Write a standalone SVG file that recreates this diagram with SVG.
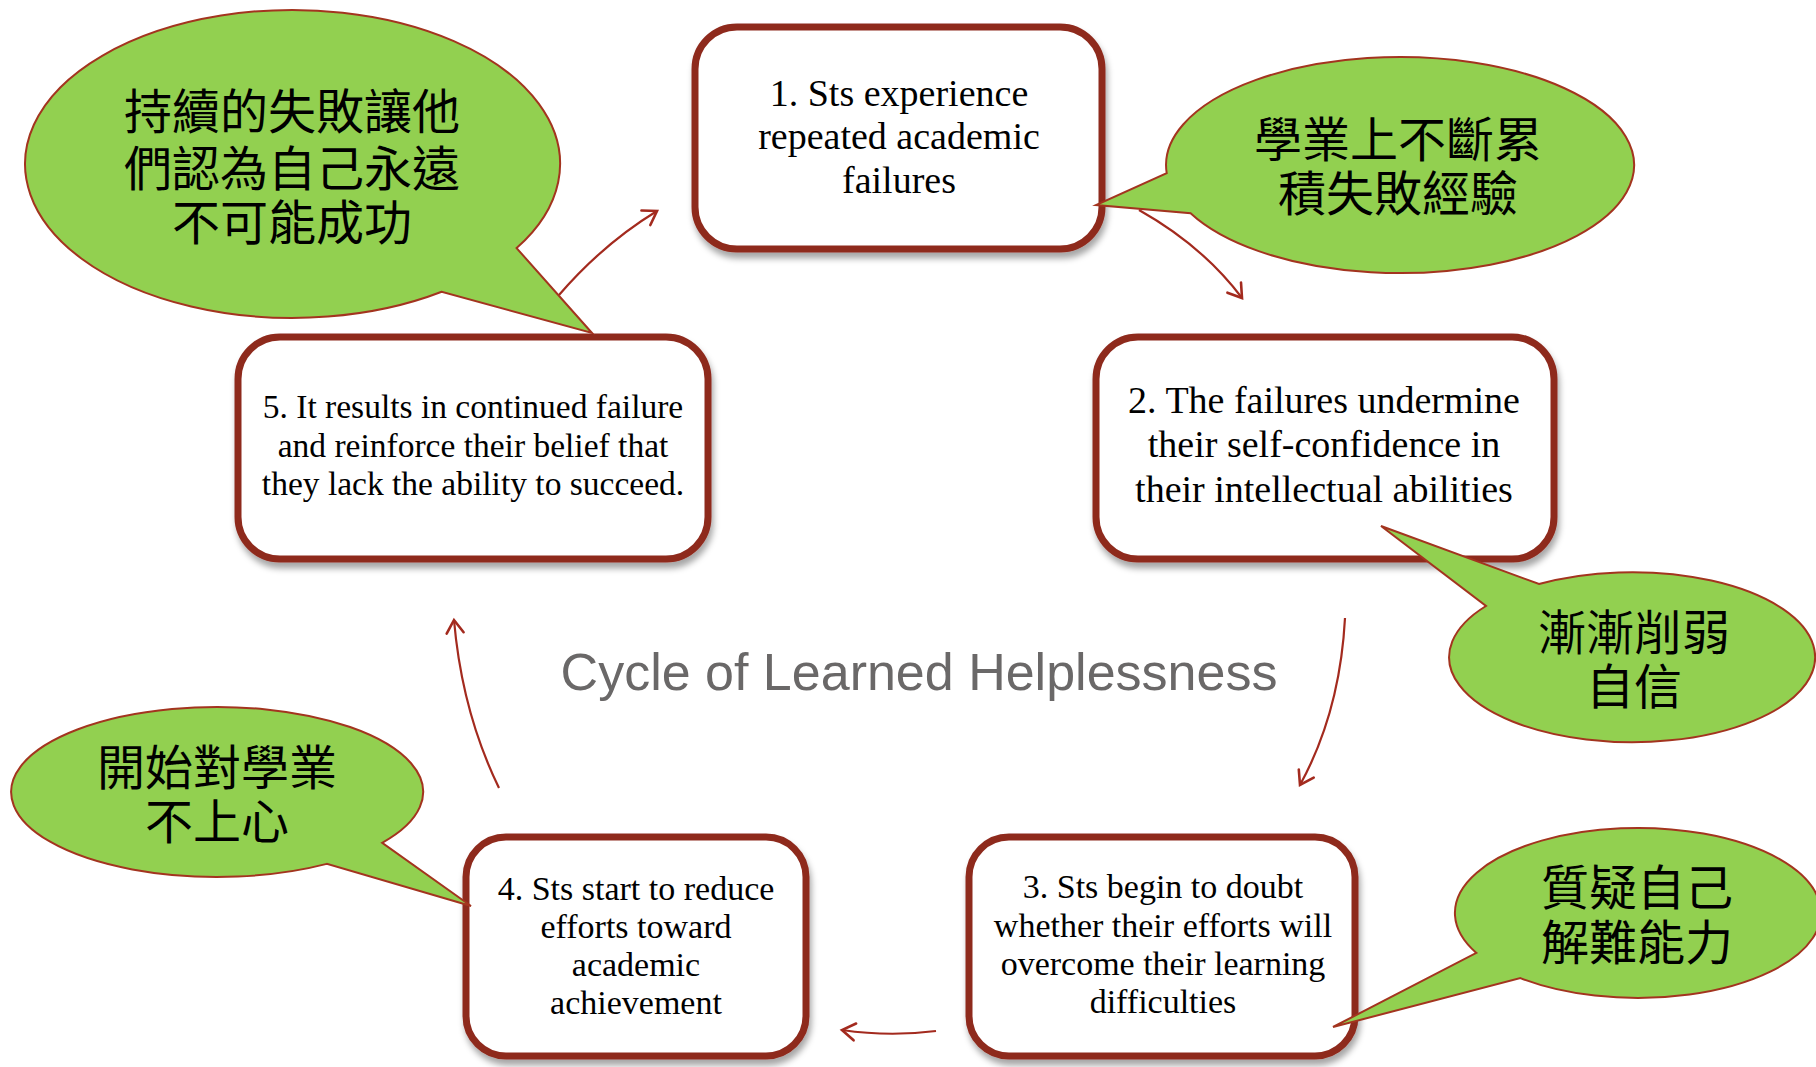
<svg xmlns="http://www.w3.org/2000/svg" width="1816" height="1067" viewBox="0 0 1816 1067">
  <defs>
    <style>
      .box { fill: #ffffff; stroke: #8E2A1E; stroke-width: 7; filter: url(#shadow); }
      .bt { font-family: "Liberation Serif", "Times New Roman", serif; fill: #000; text-anchor: middle; }
      .callout { fill: #92D050; stroke: #A3341F; stroke-width: 2; stroke-linejoin: miter; }
      .ct { font-family: "Noto Sans CJK TC", "Noto Sans CJK SC", sans-serif; font-size: 48px; fill: #000; text-anchor: middle; }
      .conn { fill: none; stroke: #A32A1E; stroke-width: 2.2; marker-end: url(#arrow); }
      .title { font-family: "Liberation Sans", Arial, sans-serif; font-size: 52px; fill: #6A6868; text-anchor: middle; }
    </style>
    <filter id="shadow" x="-10%" y="-10%" width="125%" height="130%">
      <feDropShadow dx="2" dy="6" stdDeviation="3" flood-color="#000" flood-opacity="0.35"/>
    </filter>
    <marker id="arrow" markerUnits="userSpaceOnUse" markerWidth="30" markerHeight="30" refX="15" refY="15" orient="auto" viewBox="0 0 30 30">
      <path d="M2,6.5 L15,15 L2,23.5" fill="none" stroke="#A32A1E" stroke-width="2.6" stroke-linecap="round" stroke-linejoin="miter"/>
    </marker>
  </defs>

  <rect width="1816" height="1067" fill="#ffffff"/>

  <text class="title" x="919" y="690">Cycle of Learned Helplessness</text>

  <g id="connectors">
    <path class="conn" d="M1139,210 Q1203,246 1242,298"/>
    <path class="conn" d="M1345,618 Q1340,712 1300,785"/>
    <path class="conn" d="M936,1031 Q889,1037 842,1030"/>
    <path class="conn" d="M499,788 Q462,712 454,620"/>
    <path class="conn" d="M559,295 Q603,244 657,211"/>
  </g>

  <g id="node1">
    <rect class="box" x="695" y="27" width="407" height="222" rx="42" ry="42"/>
    <text class="bt" font-size="38" x="899" y="106">1. Sts experience</text>
    <text class="bt" font-size="38" x="899" y="149">repeated academic</text>
    <text class="bt" font-size="38" x="899" y="193">failures</text>
  </g>

  <g id="node2">
    <rect class="box" x="1096" y="337" width="458" height="222" rx="42" ry="42"/>
    <text class="bt" font-size="38" x="1324" y="413">2. The failures undermine</text>
    <text class="bt" font-size="38" x="1324" y="457">their self-confidence in</text>
    <text class="bt" font-size="38" x="1324" y="502">their intellectual abilities</text>
  </g>

  <g id="node3">
    <rect class="box" x="969" y="837" width="386" height="219" rx="40" ry="40"/>
    <text class="bt" font-size="34" x="1163" y="898">3. Sts begin to doubt</text>
    <text class="bt" font-size="34" x="1163" y="937">whether their efforts will</text>
    <text class="bt" font-size="34" x="1163" y="975">overcome their learning</text>
    <text class="bt" font-size="34" x="1163" y="1013">difficulties</text>
  </g>

  <g id="node4">
    <rect class="box" x="466" y="837" width="340" height="219" rx="40" ry="40"/>
    <text class="bt" font-size="34" x="636" y="900">4. Sts start to reduce</text>
    <text class="bt" font-size="34" x="636" y="938">efforts toward</text>
    <text class="bt" font-size="34" x="636" y="976">academic</text>
    <text class="bt" font-size="34" x="636" y="1014">achievement</text>
  </g>

  <g id="node5">
    <rect class="box" x="238" y="337" width="470" height="222" rx="42" ry="42"/>
    <text class="bt" font-size="33.5" x="473" y="418">5. It results in continued failure</text>
    <text class="bt" font-size="33.5" x="473" y="457">and reinforce their belief that</text>
    <text class="bt" font-size="33.5" x="473" y="495">they lack the ability to succeed.</text>
  </g>

  <g id="callout-a">
    <path class="callout" d="M516.6,248.1 A267.5,154 0 1 0 441.7,291.8 L592,333 Z"/>
    <text class="ct" x="292" y="129">持續的失敗讓他</text>
    <text class="ct" x="292" y="186">們認為自己永遠</text>
    <text class="ct" x="292" y="240">不可能成功</text>
  </g>

  <g id="callout-b">
    <path class="callout" d="M1166.7,173.1 A234,108 0 1 1 1190.6,213.2 L1096,205 Z"/>
    <text class="ct" x="1398" y="157">學業上不斷累</text>
    <text class="ct" x="1398" y="211">積失敗經驗</text>
  </g>

  <g id="callout-c">
    <path class="callout" d="M1539,584 A183,85 0 1 1 1486,606 L1381,526 Z"/>
    <text class="ct" x="1634" y="650">漸漸削弱</text>
    <text class="ct" x="1634" y="704">自信</text>
  </g>

  <g id="callout-d">
    <path class="callout" d="M382.2,842.8 A206,85 0 1 0 326.8,863.9 L471,906 Z"/>
    <text class="ct" x="217" y="785">開始對學業</text>
    <text class="ct" x="217" y="839">不上心</text>
  </g>

  <g id="callout-e">
    <path class="callout" d="M1476.4,952.9 A183,85 0 1 1 1520.4,978.1 L1333,1027 Z"/>
    <text class="ct" x="1637" y="905">質疑自己</text>
    <text class="ct" x="1637" y="960">解難能力</text>
  </g>
</svg>
